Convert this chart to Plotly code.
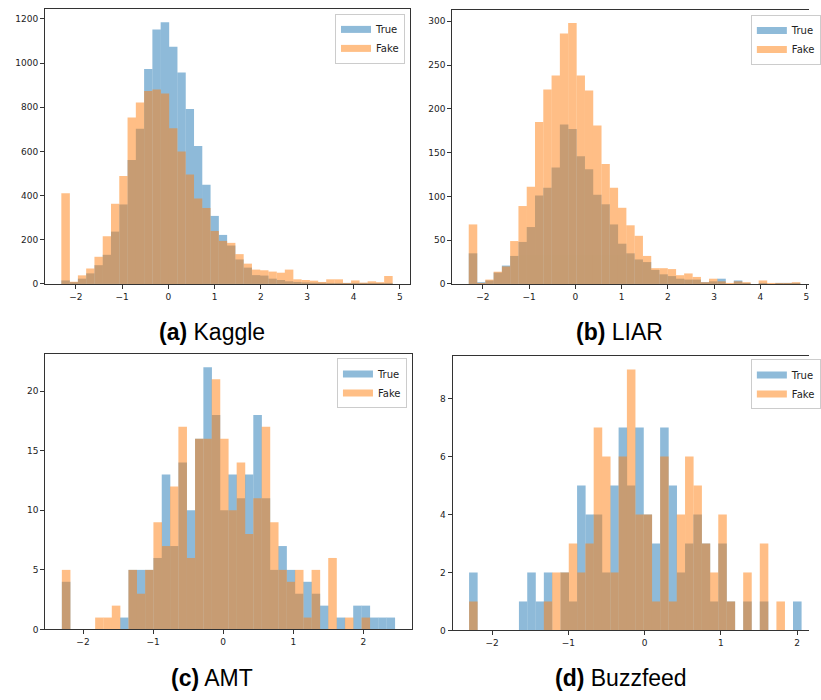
import numpy as np
import plotly.graph_objects as go

# ---------------- data (histogram counts per bin, 40 bins each) ----------------
# (a) Kaggle
kaggle_start, kaggle_width = -2.312, 0.1789
kaggle_true = [16, 8, 24, 48, 85, 132, 237, 360, 561, 703, 973, 1152, 1185, 1074, 957, 792,
               624, 449, 308, 222, 174, 111, 74, 40, 38, 24, 18, 12, 9, 7, 6, 6, 4, 4, 2, 2,
               1, 1, 1, 1]
kaggle_fake = [411, 10, 39, 70, 123, 216, 363, 489, 754, 822, 873, 880, 862, 705, 600, 495,
               387, 344, 240, 195, 186, 135, 92, 65, 62, 56, 51, 65, 21, 18, 15, 9, 21, 21, 3,
               16, 6, 12, 8, 36]

# (b) LIAR
liar_start, liar_width = -2.305, 0.17925
liar_true = [35, 2, 4, 13, 21, 32, 48, 65, 101, 110, 133, 182, 177, 146, 131, 102, 91, 68,
             46, 35, 28, 25, 16, 11, 9, 6, 5, 5, 2, 3, 6, 0, 4, 1, 0, 1, 0, 1, 1, 1]
liar_fake = [68, 1, 5, 14, 20, 49, 89, 111, 185, 222, 238, 286, 298, 238, 221, 181, 137, 110,
             87, 67, 55, 32, 18, 18, 17, 10, 12, 8, 2, 6, 3, 1, 3, 2, 0, 4, 1, 1, 1, 2]

# (c) AMT
amt_start, amt_width = -2.3, 0.11875
amt_true = [4, 0, 0, 0, 0, 0, 0, 1, 5, 5, 5, 6, 13, 7, 14, 10, 16, 22, 18, 10, 13, 11, 13, 18,
            11, 5, 7, 5, 3, 4, 3, 2, 0, 1, 0, 2, 2, 1, 1, 1]
amt_fake = [5, 0, 0, 0, 1, 1, 2, 0, 5, 3, 5, 9, 7, 12, 17, 6, 16, 16, 21, 16, 10, 14, 8, 11,
            17, 9, 5, 4, 5, 1, 5, 0, 6, 0, 1, 0, 1, 0, 0, 0]

# (d) Buzzfeed
buzz_start, buzz_width = -2.3, 0.1089
buzz_true = [2, 0, 0, 0, 0, 0, 1, 2, 1, 2, 0, 2, 1, 5, 4, 4, 2, 5, 7, 5, 7, 4, 3, 7, 5, 2, 3,
             4, 3, 1, 3, 1, 0, 1, 0, 1, 0, 0, 0, 1]
buzz_fake = [1, 0, 0, 0, 0, 0, 0, 0, 0, 1, 2, 2, 3, 2, 3, 7, 6, 2, 6, 9, 4, 4, 1, 6, 1, 4, 6,
             5, 3, 2, 4, 1, 0, 2, 0, 3, 0, 1, 0, 0]

captions = ["<b>(a)</b> Kaggle", "<b>(b)</b> LIAR", "<b>(c)</b> AMT", "<b>(d)</b> Buzzfeed"]
series_names = ["True", "Fake"]
x_ticks_top = [-2, -1, 0, 1, 2, 3, 4, 5]
x_ticks_bottom = [-2, -1, 0, 1, 2]
y_ticks = [[0, 200, 400, 600, 800, 1000, 1200], [0, 50, 100, 150, 200, 250, 300],
           [0, 5, 10, 15, 20], [0, 2, 4, 6, 8]]

# ---------------- figure ----------------
W, H = 821, 700
BLUE, ORANGE = "#1f77b4", "#ff7f0e"
TICKFONT = dict(family="DejaVu Sans", size=9, color="#222222")

panels = [
    dict(start=kaggle_start, width=kaggle_width, t=kaggle_true, f=kaggle_fake,
         xdom=[45.7, 415.7], ydom=[9, 286], xr=[-2.667, 5.213], yr=[0, 1245],
         xt=x_ticks_top, leg=dict(x=411, y=14, xa="right"), cap=(215, 334), right=True),
    dict(start=liar_start, width=liar_width, t=liar_true, f=liar_fake,
         xdom=[459, 821], ydom=[10, 286], xr=[-2.6635, 5.055], yr=[0, 313],
         xt=x_ticks_top, leg=dict(x=762, y=15, xa="left"), cap=(629, 334), right=False),
    dict(start=amt_start, width=amt_width, t=amt_true, f=amt_fake,
         xdom=[46, 417.7], ydom=[356.7, 634], xr=[-2.5375, 2.6875], yr=[0, 23.1],
         xt=x_ticks_bottom, leg=dict(x=413, y=361, xa="right"), cap=(215, 683), right=True),
    dict(start=buzz_start, width=buzz_width, t=buzz_true, f=buzz_fake,
         xdom=[459.3, 821], ydom=[359, 635], xr=[-2.518, 2.155], yr=[0, 9.45],
         xt=x_ticks_bottom, leg=dict(x=762, y=362, xa="left"), cap=(630, 683), right=False),
]

fig = go.Figure()
layout = dict(width=W, height=H, margin=dict(l=0, r=0, t=0, b=0),
              paper_bgcolor="white", plot_bgcolor="white", barmode="overlay",
              annotations=[])

for i, p in enumerate(panels):
    k = "" if i == 0 else str(i + 1)
    n = len(p["t"])
    centers = p["start"] + p["width"] * (np.arange(n) + 0.5)
    legname = "legend" + k
    for name, vals, col in ((series_names[0], p["t"], BLUE), (series_names[1], p["f"], ORANGE)):
        # bars slightly widened so adjacent bins meet without anti-aliasing seams
        fig.add_trace(go.Bar(
            x=centers, y=vals, width=p["width"] * 1.03, name=name,
            marker=dict(color=col, line=dict(width=0)), opacity=0.5,
            xaxis="x" + k, yaxis="y" + k, showlegend=False, hoverinfo="x+y+name",
        ))
        # legend swatch (wide rectangle like matplotlib's patch handle)
        fig.add_trace(go.Scatter(
            x=[None], y=[None], mode="lines", name=name,
            line=dict(color=col, width=7), opacity=0.5,
            xaxis="x" + k, yaxis="y" + k, legend=legname, showlegend=True,
        ))
    layout["xaxis" + k] = dict(
        domain=[p["xdom"][0] / W, p["xdom"][1] / W], range=p["xr"], anchor="y" + k,
        tickvals=p["xt"], ticks="outside", ticklen=4, tickwidth=1, tickcolor="#333",
        showline=True, linecolor="#333", linewidth=1, mirror=True,
        showgrid=False, zeroline=False, tickfont=TICKFONT,
    )
    layout["yaxis" + k] = dict(
        domain=[1 - p["ydom"][1] / H, 1 - p["ydom"][0] / H], range=p["yr"], anchor="x" + k,
        tickvals=y_ticks[i], ticks="outside", ticklen=4, tickwidth=1, tickcolor="#333",
        showline=True, linecolor="#333", linewidth=1, mirror=p["right"],
        showgrid=False, zeroline=False, tickfont=TICKFONT,
    )
    layout[legname] = dict(
        x=p["leg"]["x"] / W, y=1 - p["leg"]["y"] / H, xanchor=p["leg"]["xa"], yanchor="top",
        bgcolor="rgba(255,255,255,0.8)", bordercolor="#cccccc", borderwidth=1,
        font=dict(family="DejaVu Sans", size=10, color="#222222"),
        tracegroupgap=0, itemwidth=30,
    )
    layout["annotations"].append(dict(
        text=captions[i], xref="paper", yref="paper",
        x=p["cap"][0] / W, y=1 - p["cap"][1] / H, xanchor="center", yanchor="middle",
        showarrow=False, font=dict(family="Liberation Sans", size=23, color="black"),
    ))

fig.update_layout(**layout)
fig.write_html("out.html")
